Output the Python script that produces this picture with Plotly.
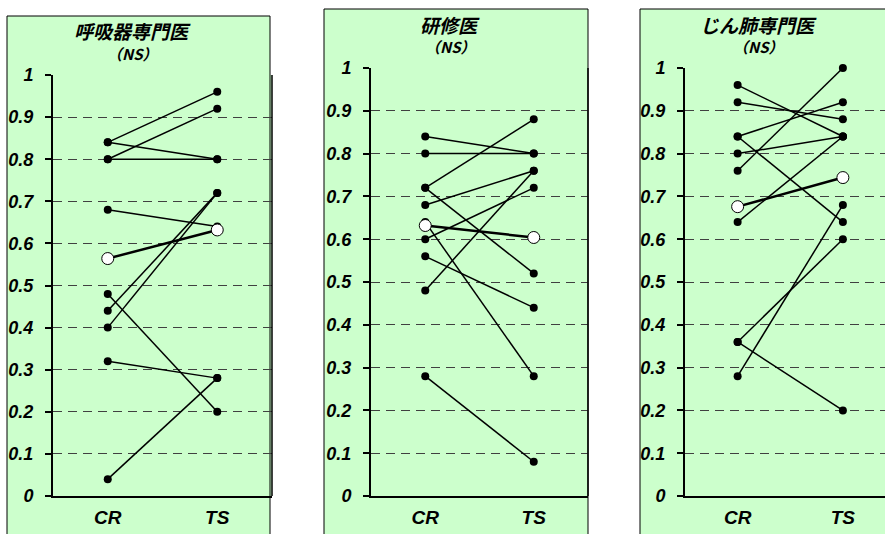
import plotly.graph_objects as go

# ---------------- data ----------------
categories = ["CR", "TS"]
y_tick_vals = [0, 0.1, 0.2, 0.3, 0.4, 0.5, 0.6, 0.7, 0.8, 0.9, 1.0]
y_tick_text = ["0", "0.1", "0.2", "0.3", "0.4", "0.5", "0.6", "0.7", "0.8", "0.9", "1"]

panel_titles = ["呼吸器専門医", "研修医", "じん肺専門医"]
panel_subtitle = "（NS）"

# 呼吸器専門医 : individual pairs (CR, TS)
resp_cr = [0.84, 0.80, 0.84, 0.80, 0.68, 0.48, 0.44, 0.40, 0.32, 0.04]
resp_ts = [0.96, 0.92, 0.80, 0.80, 0.64, 0.20, 0.72, 0.72, 0.28, 0.28]
resp_mean = [0.564, 0.632]

# 研修医
res_cr = [0.84, 0.80, 0.72, 0.72, 0.68, 0.60, 0.48, 0.64, 0.56, 0.28]
res_ts = [0.80, 0.80, 0.88, 0.52, 0.76, 0.72, 0.76, 0.28, 0.44, 0.08]
res_mean = [0.632, 0.604]

# じん肺専門医
pneu_cr = [0.96, 0.92, 0.84, 0.84, 0.80, 0.76, 0.64, 0.36, 0.36, 0.28]
pneu_ts = [0.84, 0.88, 0.92, 0.64, 0.84, 1.00, 0.84, 0.60, 0.20, 0.68]
pneu_mean = [0.676, 0.744]

panels = [(resp_cr, resp_ts, resp_mean), (res_cr, res_ts, res_mean), (pneu_cr, pneu_ts, pneu_mean)]

# ---------------- layout geometry ----------------
W, H = 885, 534
GREEN = "#CCFFCC"
GRID = "#404040"
FONT_LAT = "Liberation Sans, Arial, sans-serif"
FONT_JP = "Noto Sans CJK JP, sans-serif"

# plot areas in pixels: (left, right, top(y=1), bottom(y=0))
areas = [(53, 272, 75, 496), (371, 588, 68, 496), (685, 885, 68, 496)]
x_ranges = [[-0.5, 1.5], [-0.5, 1.5], [-0.5, 1.4]]
# outer boxes: (left, right, top)
boxes = [(7, 270, 16), (324, 588, 9), (640, 900, 9)]
title_pos = [(132, 30, 53), (450, 24, 47), (758, 24, 47)]


def bi(s):
    return f"<b><i>{s}</i></b>"


fig = go.Figure()

for i, (cr, ts, mean) in enumerate(panels):
    xa = "x" if i == 0 else f"x{i+1}"
    ya = "y" if i == 0 else f"y{i+1}"
    xs, ys = [], []
    for a, b in zip(cr, ts):
        xs += [0, 1, None]
        ys += [a, b, None]
    fig.add_trace(go.Scatter(
        x=xs, y=ys, mode="lines+markers", xaxis=xa, yaxis=ya,
        line=dict(color="black", width=1.5),
        marker=dict(color="black", size=8),
        showlegend=False, hoverinfo="skip", cliponaxis=False))
    fig.add_trace(go.Scatter(
        x=[0, 1], y=mean, mode="lines+markers", xaxis=xa, yaxis=ya,
        line=dict(color="black", width=2.5),
        marker=dict(color="white", size=12, line=dict(color="black", width=1)),
        showlegend=False, hoverinfo="skip", cliponaxis=False))

layout = dict(
    width=W, height=H, autosize=False,
    margin=dict(l=0, r=0, t=0, b=0, pad=0, autoexpand=False),
    paper_bgcolor="white", plot_bgcolor=GREEN,
    shapes=[], annotations=[],
)

tick_font = dict(family=FONT_LAT, size=18, color="black", weight="bold", style="italic")
cat_font = dict(family=FONT_LAT, size=19, color="black", weight="bold", style="italic")

for i in range(3):
    l, r, t, b = areas[i]
    suffix = "" if i == 0 else str(i + 1)
    layout["xaxis" + suffix] = dict(
        domain=[l / W, min(r / W, 1.0)],
        range=x_ranges[i],
        tickvals=[0, 1], ticktext=[bi(c) for c in categories],
        showgrid=False, zeroline=False,
        showline=True, linecolor="black", linewidth=2,
        ticks="", ticklabelstandoff=3, automargin=False,
        tickfont=cat_font,
        anchor="y" + suffix, fixedrange=True,
    )
    layout["yaxis" + suffix] = dict(
        domain=[(H - b) / H, (H - t) / H],
        range=[0, 1],
        tickvals=y_tick_vals, ticktext=[bi(s) for s in y_tick_text],
        showgrid=True, gridcolor=GRID, gridwidth=1, griddash="9px,6px",
        zeroline=False,
        showline=True, linecolor="black", linewidth=2,
        ticks="outside", ticklen=6, tickwidth=2, tickcolor="black",
        ticklabelstandoff=8, automargin=False,
        tickfont=tick_font,
        anchor="x" + suffix, fixedrange=True,
    )
    # outer box
    bl, br, bt = boxes[i]
    layout["shapes"].append(dict(
        type="rect", xref="paper", yref="paper", layer="below",
        x0=bl / W, x1=br / W, y0=-0.02, y1=(H - bt) / H,
        fillcolor=GREEN, line=dict(color="black", width=1)))
    # plot area right border
    if r < W:
        layout["shapes"].append(dict(
            type="line", xref="paper", yref="paper", layer="above",
            x0=r / W, x1=r / W, y0=(H - b) / H, y1=(H - t) / H,
            line=dict(color="black", width=1.5)))
    tx, ty1, ty2 = title_pos[i]
    layout["annotations"].append(dict(
        xref="paper", yref="paper", x=tx / W, y=(H - ty1) / H,
        text=bi(panel_titles[i]), showarrow=False, xanchor="center", yanchor="middle",
        font=dict(family=FONT_JP, size=19, color="black", weight="bold", style="italic")))
    layout["annotations"].append(dict(
        xref="paper", yref="paper", x=tx / W, y=(H - ty2) / H,
        text=bi(panel_subtitle), showarrow=False, xanchor="center", yanchor="middle",
        font=dict(family=FONT_JP, size=15, color="black", weight="bold", style="italic")))

fig.update_layout(**layout)
fig.write_html(
    "out.html",
    config={"responsive": False, "displayModeBar": False},
    post_script="document.body.style.margin='0';document.body.style.overflow='hidden';",
)
